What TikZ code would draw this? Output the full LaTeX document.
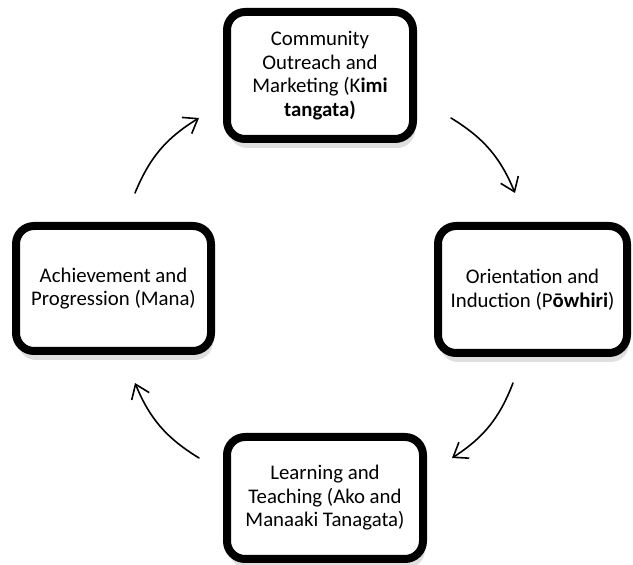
\documentclass[tikz,border=0pt]{standalone}
\usepackage{fontspec}
\setmainfont{Carlito}
\usetikzlibrary{arrows.meta,shadows}
\begin{document}
\begin{tikzpicture}[x=1pt,y=1pt,>={Straight Barb[length=13pt,width=19pt]},line join=round,line cap=round,
hop/.style={draw,line width=8pt,rounded corners=18pt,fill=white,align=center,
  font=\fontsize{20.8}{23.5}\selectfont,
  drop shadow={shadow xshift=2pt,shadow yshift=-9pt,opacity=0.25}},
muiten/.style={->,line width=1.6pt}]
\useasboundingbox (0,0) rectangle (633,565);
\node[hop,minimum width=186pt,minimum height=127pt] (kimi) at (320,489.5)
  {Community\\Outreach and\\Marketing (K\textbf{imi}\\\textbf{tangata)}};
\node[hop,minimum width=189pt,minimum height=127pt] (powhiri) at (532.5,275.5)
  {Orientation and\\Induction (P\textbf{ōwhiri})};
\node[hop,minimum width=196pt,minimum height=122pt] (ako) at (325,67)
  {Learning and\\Teaching (Ako and\\Manaaki Tanagata)};
\node[hop,minimum width=195pt,minimum height=125pt] (mana) at (113.5,276.5)
  {Achievement and\\Progression (Mana)};
% mui ten giua cac buoc
\coordinate (d1) at (135,372); \coordinate (c1) at (199,447);
\coordinate (d2) at (451,447); \coordinate (c2) at (515,372);
\coordinate (d3) at (513,182); \coordinate (c3) at (452,107);
\coordinate (d4) at (199,107); \coordinate (c4) at (135,182);
\foreach \i in {1,...,4}{
\draw[muiten] (d\i) to[bend left=18] (c\i);
}
\end{tikzpicture}
\end{document}
